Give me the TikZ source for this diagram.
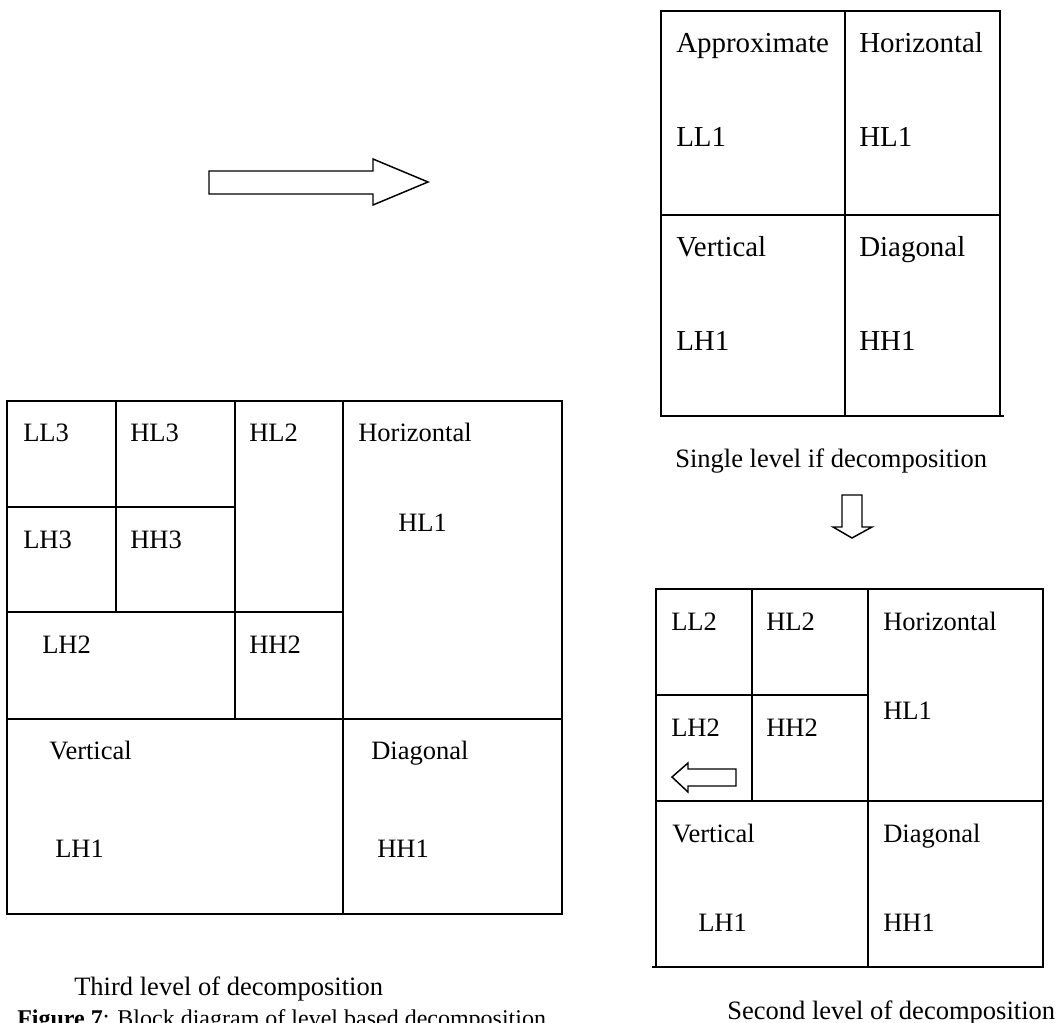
\documentclass[tikz,border=0pt]{standalone}
\usepackage{fontspec}
\setmainfont{Liberation Serif}
\begin{document}
\begin{tikzpicture}[x=0.75pt,y=-0.75pt,
  ln/.style={line width=1.1pt,line cap=rect},
  blk/.style={line width=1.1pt,line join=miter},
  lbl/.style={anchor=base west,inner sep=0pt,font=\fontsize{19.9}{24}\selectfont},
  big/.style={lbl,font=\fontsize{21.7}{26}\selectfont}]
\useasboundingbox (0,0) rectangle (1057,1023);
% ---------- single level ----------
\draw[ln] (661,11) rectangle (1000,416);
\draw[ln] (845,11) -- (845,416);
\draw[ln] (661,215) -- (1000,215);
\draw[ln] (1000,416) -- (1003,416);
\node[big] (s-a) at (676,53) {Approximate};
\node[big] (s-h) at (859,53) {Horizontal};
\node[big] (s-ll1) at (676,147) {LL1};
\node[big] (s-hl1) at (859,147) {HL1};
\node[big] (s-v) at (676,257) {Vertical};
\node[big] (s-d) at (859,257) {Diagonal};
\node[big] (s-lh1) at (676,351) {LH1};
\node[big] (s-hh1) at (859,351) {HH1};
\node[lbl] (s-cap) at (675,468) {Single level if decomposition};
% right block arrow
\draw[blk] (209,171) -- (373,171) -- (373,159) -- (428,182) -- (373,205) -- (373,194) -- (209,194) -- cycle;
% down block arrow
\draw[blk] (842,495) -- (862,495) -- (862,527) -- (872,527) -- (852,538) -- (833,527) -- (842,527) -- cycle;
% ---------- second level ----------
\draw[ln] (656,589) rectangle (1043,967);
\draw[ln] (653,967) -- (656,967);
\draw[ln] (868,589) -- (868,967);
\draw[ln] (656,801) -- (1043,801);
\draw[ln] (752,589) -- (752,801);
\draw[ln] (656,695) -- (868,695);
\node[lbl] (t-ll2) at (671,630) {LL2};
\node[lbl] (t-hl2) at (766,630) {HL2};
\node[lbl] (t-h) at (883,630) {Horizontal};
\node[lbl] (t-hl1) at (883,719) {HL1};
\node[lbl] (t-lh2) at (671,736) {LH2};
\node[lbl] (t-hh2) at (766,736) {HH2};
\node[lbl] (t-v) at (672,842) {Vertical};
\node[lbl] (t-d) at (883,842) {Diagonal};
\node[lbl] (t-lh1) at (698,931) {LH1};
\node[lbl] (t-hh1) at (883,931) {HH1};
\draw[blk] (672,777) -- (688,763) -- (688,769) -- (736,769) -- (736,786) -- (688,786) -- (688,792) -- cycle;
\node[lbl] (t-cap) at (727,1019) {Second level of decomposition};
% ---------- third level ----------
\draw[ln] (7,401) rectangle (562,914);
\draw[ln] (343,401) -- (343,914);
\draw[ln] (7,719) -- (562,719);
\draw[ln] (116,401) -- (116,612);
\draw[ln] (235,401) -- (235,719);
\draw[ln] (7,507) -- (235,507);
\draw[ln] (7,612) -- (343,612);
\node[lbl] (r-ll3) at (23,442) {LL3};
\node[lbl] (r-hl3) at (130,442) {HL3};
\node[lbl] (r-hl2) at (249,442) {HL2};
\node[lbl] (r-h) at (358,442) {Horizontal};
\node[lbl] (r-lh3) at (23,548) {LH3};
\node[lbl] (r-hh3) at (130,548) {HH3};
\node[lbl] (r-hl1) at (398,531) {HL1};
\node[lbl] (r-lh2) at (42,653) {LH2};
\node[lbl] (r-hh2) at (249,653) {HH2};
\node[lbl] (r-v) at (49,759) {Vertical};
\node[lbl] (r-d) at (371,759) {Diagonal};
\node[lbl] (r-lh1) at (55,857) {LH1};
\node[lbl] (r-hh1) at (377,857) {HH1};
\node[lbl] (r-cap) at (74,995) {Third level of decomposition};
% figure caption (cut by the page edge, as in the reference)
\node[lbl,font=\fontsize{18}{22}\selectfont] (fig) at (17,1026) {\textbf{Figure 7}: Block diagram of level based decomposition};
\end{tikzpicture}
\end{document}
